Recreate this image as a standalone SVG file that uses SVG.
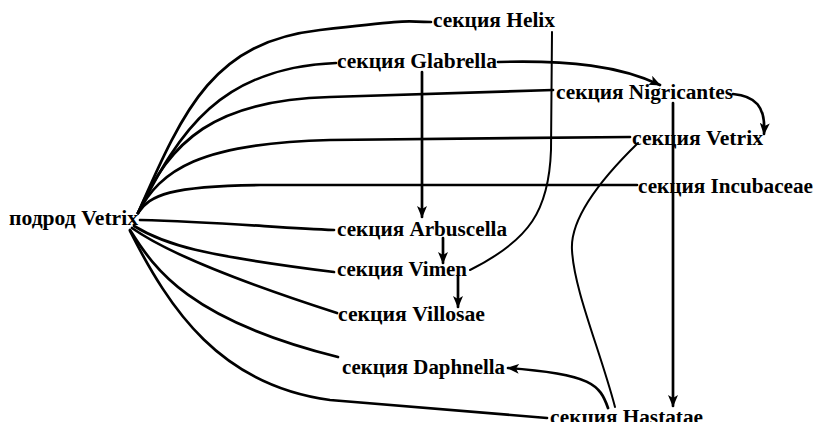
<svg xmlns="http://www.w3.org/2000/svg" width="817" height="422" viewBox="0 0 817 422">
<defs>
<style>
.t{font-family:"Liberation Serif","Times New Roman",serif;font-weight:bold;font-size:20px;fill:#000}
.c{fill:none;stroke:#000;stroke-width:2.7;stroke-linecap:round}
.thin{stroke-width:2}
</style>
<marker id="ah" viewBox="0 0 12 10" refX="11" refY="5" markerWidth="12" markerHeight="10" markerUnits="userSpaceOnUse" orient="auto">
<path d="M0,0 L12,5 L0,10 L3,5 z" fill="#000"/>
</marker>
</defs>
<rect width="817" height="422" fill="#fff"/>
<g id="connectors">
<path class="c" d="M138,213 C185,105 215,42 320,30 S400,22 431,22"/>
<path class="c" d="M138,213 C180,130 220,68 336,63"/>
<path class="c" d="M138,213 C170,140 215,100 330,97 L553,90"/>
<path class="c" d="M138,213 C160,170 200,143 330,140 L630,137"/>
<path class="c" d="M138,213 C150,195 170,186 260,185 L637,185"/>
<path class="c" d="M140,220 C220,222 280,228 334,230"/>
<path class="c" d="M134,226 C165,245 200,255 334,272"/>
<path class="c" d="M132,228 C170,255 250,285 337,313"/>
<path class="c" d="M130,230 C155,270 190,320 338,357"/>
<path class="c" d="M130,231 C170,310 220,385 330,400 L547,418"/>
<path class="c thin" d="M552,32 L551,150 C549,210 530,240 470,270"/>
<path class="c" d="M422,72 L422,217" marker-end="url(#ah)"/>
<path class="c" d="M443,238 L443,263" marker-end="url(#ah)"/>
<path class="c" d="M458,276 L458,307" marker-end="url(#ah)"/>
<path class="c" d="M498,62 C570,60 620,66 660,85" marker-end="url(#ah)"/>
<path class="c" d="M733,94 C755,96 766,106 764,134" marker-end="url(#ah)"/>
<path class="c" d="M673,103 L673,406" marker-end="url(#ah)"/>
<path class="c thin" d="M638,143 C600,180 570,220 572,250 C574,290 600,350 615,407"/>
<path class="c" d="M608,408 C600,385 592,374 508,368" marker-end="url(#ah)"/>
</g>
<g id="n-podrod"><text class="t" x="9" y="225" textLength="129" lengthAdjust="spacingAndGlyphs">подрод Vetrix</text></g>
<g id="n-helix"><text class="t" x="433" y="27" textLength="122" lengthAdjust="spacingAndGlyphs">секция Helix</text></g>
<g id="n-glabrella"><text class="t" x="337" y="68" textLength="160" lengthAdjust="spacingAndGlyphs">секция Glabrella</text></g>
<g id="n-nigricantes"><text class="t" x="556" y="99" textLength="177" lengthAdjust="spacingAndGlyphs">секция Nigricantes</text></g>
<g id="n-vetrix"><text class="t" x="632" y="145" textLength="131" lengthAdjust="spacingAndGlyphs">секция Vetrix</text></g>
<g id="n-incubaceae"><text class="t" x="638" y="193" textLength="175" lengthAdjust="spacingAndGlyphs">секция Incubaceae</text></g>
<g id="n-arbuscella"><text class="t" x="337" y="236" textLength="170" lengthAdjust="spacingAndGlyphs">секция Arbuscella</text></g>
<g id="n-vimen"><text class="t" x="337" y="276" textLength="130" lengthAdjust="spacingAndGlyphs">секция Vimen</text></g>
<g id="n-villosae"><text class="t" x="338" y="321" textLength="147" lengthAdjust="spacingAndGlyphs">секция Villosae</text></g>
<g id="n-daphnella"><text class="t" x="342" y="374" textLength="163" lengthAdjust="spacingAndGlyphs">секция Daphnella</text></g>
<g id="n-hastatae"><text class="t" x="550" y="424" textLength="153" lengthAdjust="spacingAndGlyphs">секция Hastatae</text></g>
</svg>
